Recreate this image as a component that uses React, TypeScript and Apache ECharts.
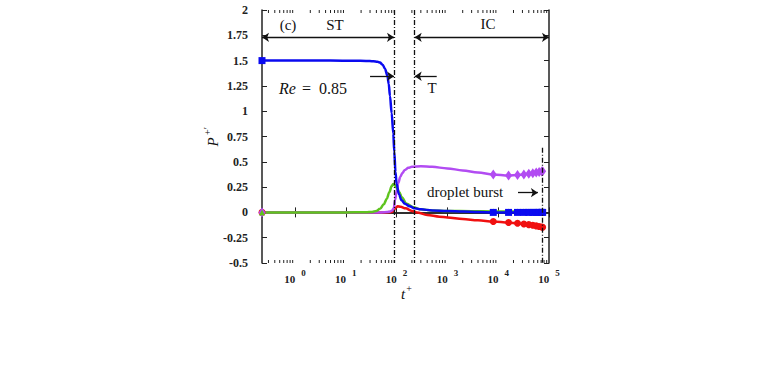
import React, { useEffect, useRef } from 'react';
import * as echarts from 'echarts';

const X_MIN = 0.224;
const X_MAX = 100000;
const Y_TICKS = [-0.5, -0.25, 0, 0.25, 0.5, 0.75, 1, 1.25, 1.5, 1.75, 2];
const X_EXPONENTS = [0, 1, 2, 3, 4, 5];

const markerTimes = [0.224, 8000, 16000, 24000, 32000, 40000, 48000, 56000, 64000, 72000, 75000];

const blueT = [0.224, 1, 5, 15, 25, 35, 42, 47, 53, 59, 66, 70, 74, 80, 86, 90, 95, 100, 111, 125, 146, 180, 230, 300, 500, 1000, 2000, 4000, 8000, 16000, 24000, 32000, 40000, 48000, 56000, 64000, 72000, 75000];
const blueP = [1.5, 1.5, 1.5, 1.499, 1.497, 1.493, 1.488, 1.48, 1.46, 1.42, 1.35, 1.27, 1.15, 0.98, 0.78, 0.6, 0.4, 0.28, 0.18, 0.12, 0.085, 0.06, 0.04, 0.03, 0.02, 0.014, 0.008, 0.003, 0, 0, 0, 0, 0, 0, 0, 0, 0, 0];

const purpleT = [0.224, 10, 50, 65, 75, 82, 88, 93, 100, 108, 118, 130, 146, 170, 200, 300, 500, 1000, 2000, 4000, 8000, 16000, 24000, 32000, 40000, 48000, 56000, 64000, 72000, 75000];
const purpleP = [0, 0, 0, 0.003, 0.01, 0.02, 0.04, 0.12, 0.21, 0.29, 0.35, 0.39, 0.42, 0.44, 0.45, 0.455, 0.45, 0.435, 0.415, 0.395, 0.375, 0.365, 0.37, 0.375, 0.382, 0.388, 0.394, 0.4, 0.405, 0.407];

const greenT = [0.224, 10, 25, 33, 40, 47, 56, 64, 72, 80, 86, 92, 100, 113, 126, 158, 213, 300, 500, 1000, 3000, 8000, 16000, 24000, 32000, 40000, 48000, 56000, 64000, 72000, 75000];
const greenP = [0, 0, 0.001, 0.005, 0.015, 0.035, 0.08, 0.135, 0.2, 0.26, 0.28, 0.27, 0.245, 0.2, 0.15, 0.085, 0.05, 0.03, 0.02, 0.015, 0.012, 0.01, 0.01, 0.01, 0.01, 0.01, 0.01, 0.01, 0.01, 0.01, 0.01];

const redT = [0.224, 10, 60, 75, 82, 88, 95, 105, 120, 150, 200, 250, 400, 700, 1000, 2000, 4000, 8000, 16000, 24000, 32000, 40000, 48000, 56000, 64000, 72000, 75000];
const redP = [0, 0, 0, 0.001, 0.006, 0.02, 0.045, 0.06, 0.055, 0.04, 0.015, 0, -0.025, -0.042, -0.05, -0.065, -0.078, -0.09, -0.1, -0.108, -0.115, -0.121, -0.127, -0.133, -0.139, -0.145, -0.147];

const regionLines = [89, 227];
const burstT = 75000;
const burstTop = 0.64;

const minorTicks: number[] = [];
for (let e = -1; e <= 4; e++) {
  for (let m = 2; m <= 9; m++) {
    const v = m * Math.pow(10, e);
    if (v > X_MIN && v < X_MAX) minorTicks.push(v);
  }
}

const SERIF = '"Liberation Serif", "DejaVu Serif", serif';
const AX = '#222';

function mkData(t: number[], p: number[], sym: string) {
  return t.map((x, i) => ({
    value: [x, p[i]],
    symbol: markerTimes.indexOf(x) >= 0 ? sym : 'none',
  }));
}

export default function App() {
  const ref = useRef<HTMLDivElement>(null);
  useEffect(() => {
    if (!ref.current) return;
    const chart = echarts.init(ref.current, null, { renderer: 'svg' });
    const blk = { color: '#111', width: 1.3, type: [5, 2, 1, 2] as any };
    const arrowStyle = { color: '#111', width: 1.3, type: 'solid' as any };
    const lineSeries = (name: string, t: number[], p: number[], color: string, sym: string, size: any, extra: any = {}) => ({
      name,
      type: 'line',
      xAxisIndex: 0,
      yAxisIndex: 0,
      data: mkData(t, p, sym),
      showSymbol: true,
      showAllSymbol: true,
      symbolSize: size,
      smooth: 0.35,
      smoothMonotone: 'x',
      lineStyle: { color, width: 2.5 },
      itemStyle: { color },
      emphasis: { disabled: true },
      silent: true,
      z: 3,
      ...extra,
    });
    const vline = (x: number, top: number) => [
      { coord: [x, top], lineStyle: blk },
      { coord: [x, -0.5] },
    ];
    const arrow = (x1: number, x2: number, y: number, both: boolean) => [
      { coord: [x1, y], lineStyle: arrowStyle, symbol: both ? 'arrow' : 'none', symbolSize: 7 },
      { coord: [x2, y], symbol: 'arrow', symbolSize: 7 },
    ];
    const txt = (text: string, x: number, y: number, extra: any = {}, rotation = 0) => ({
      type: 'text', x, y, rotation,
      style: { text, fontSize: 15, fontFamily: SERIF, fill: '#111', textAlign: 'center', textVerticalAlign: 'middle', ...extra },
    });
    const option: any = {
      animation: false,
      backgroundColor: '#ffffff',
      grid: { left: 262, top: 10, width: 287, height: 253, containLabel: false },
      xAxis: [
        {
          type: 'log',
          logBase: 10,
          min: X_MIN,
          max: X_MAX,
          position: 'bottom',
          axisLine: { show: true, lineStyle: { color: AX, width: 1.5 } },
          axisTick: { show: true, inside: true, length: 5, lineStyle: { color: AX, width: 1 } },
          splitLine: { show: false },
          minorTick: { show: false },
          axisLabel: {
            showMinLabel: false,
            margin: 5,
            formatter: (v: number) => {
              const e = Math.log10(v);
              const r = Math.round(e);
              if (Math.abs(e - r) > 0.01 || X_EXPONENTS.indexOf(r) < 0) return '';
              return `{a|10}{b|${r}}`;
            },
            rich: {
              a: { fontSize: 11, fontWeight: 'bold', fontFamily: SERIF, color: AX, verticalAlign: 'bottom' },
              b: { fontSize: 9, fontWeight: 'bold', fontFamily: SERIF, color: AX, verticalAlign: 'bottom', padding: [0, 0, 7, 6] },
            },
          },
        },
        {
          type: 'log',
          logBase: 10,
          min: X_MIN,
          max: X_MAX,
          position: 'top',
          axisLine: { show: true, lineStyle: { color: AX, width: 1.5 } },
          axisTick: { show: true, inside: true, length: 5, lineStyle: { color: AX, width: 1 } },
          splitLine: { show: false },
          axisLabel: { show: false },
        },
      ],
      yAxis: [
        {
          type: 'value',
          min: -0.5,
          max: 2,
          interval: 0.25,
          position: 'left',
          axisLine: { show: true, lineStyle: { color: AX, width: 1.5 } },
          axisTick: { show: true, inside: true, length: 5, lineStyle: { color: AX, width: 1 } },
          splitLine: { show: false },
          axisLabel: {
            margin: 14,
            fontSize: 12,
            fontWeight: 'bold',
            fontFamily: SERIF,
            color: AX,
            customValues: Y_TICKS,
          },
        },
        {
          type: 'value',
          min: -0.5,
          max: 2,
          interval: 0.25,
          position: 'right',
          axisLine: { show: true, lineStyle: { color: AX, width: 1.5 } },
          axisTick: { show: true, inside: true, length: 5, lineStyle: { color: AX, width: 1 } },
          splitLine: { show: false },
          axisLabel: { show: false },
        },
      ],
      series: [
        {
          type: 'custom',
          xAxisIndex: 0,
          yAxisIndex: 0,
          silent: true,
          clip: false,
          data: minorTicks.map((v) => [v, 0]),
          renderItem: (params: any, api: any) => {
            const v = api.value(0);
            const pb = api.coord([v, -0.5]);
            const pt = api.coord([v, 2]);
            return {
              type: 'group',
              children: [
                { type: 'line', shape: { x1: pb[0], y1: pb[1], x2: pb[0], y2: pb[1] - 3 }, style: { stroke: AX, lineWidth: 1 } },
                { type: 'line', shape: { x1: pt[0], y1: pt[1], x2: pt[0], y2: pt[1] + 3 }, style: { stroke: AX, lineWidth: 1 } },
              ],
            };
          },
          z: 2,
        },
        lineSeries('red', redT, redP, '#f01010', 'circle', 7),
        lineSeries('purple', purpleT, purpleP, '#b24cf2', 'diamond', [7, 10]),
        lineSeries('green', greenT, greenP, '#5ec41e', 'triangle', 6),
        lineSeries('blue', blueT, blueP, '#0a0af0', 'rect', 7, {
          markLine: {
            silent: true,
            animation: false,
            symbol: ['none', 'none'],
            label: { show: false },
            emphasis: { disabled: true },
            data: [
              vline(regionLines[0], 2),
              vline(regionLines[1], 2),
              vline(burstT, burstTop),
              arrow(X_MIN, regionLines[0], 1.73, true),
              arrow(regionLines[1], X_MAX, 1.73, true),
              arrow(30, regionLines[0], 1.345, false),
              arrow(616, regionLines[1], 1.345, false),
              arrow(24500, 60500, 0.195, false),
            ],
          },
        }),
      ],
      graphic: [
        txt('(c)', 288, 25),
        txt('ST', 335, 25),
        txt('IC', 488, 24),
        txt('T', 432, 88),
        txt('Re', 279, 88, { fontSize: 16, fontStyle: 'italic', textAlign: 'left' }),
        txt('=  0.85', 302, 88, { fontSize: 16, textAlign: 'left' }),
        txt('droplet burst', 427, 192, { textAlign: 'left' }),
        txt('P', 213, 142, { fontSize: 15, fontStyle: 'italic' }, Math.PI / 2),
        txt('+′', 207, 131, { fontSize: 10 }, Math.PI / 2),
        txt('t', 403, 294, { fontSize: 15, fontStyle: 'italic' }),
        txt('+', 409, 288, { fontSize: 10 }),
      ],
    };
    chart.setOption(option);
    return () => chart.dispose();
  }, []);
  return <div ref={ref} style={{ position: 'fixed', left: 0, top: 0, width: 776, height: 390, background: '#fff' }} />;
}
